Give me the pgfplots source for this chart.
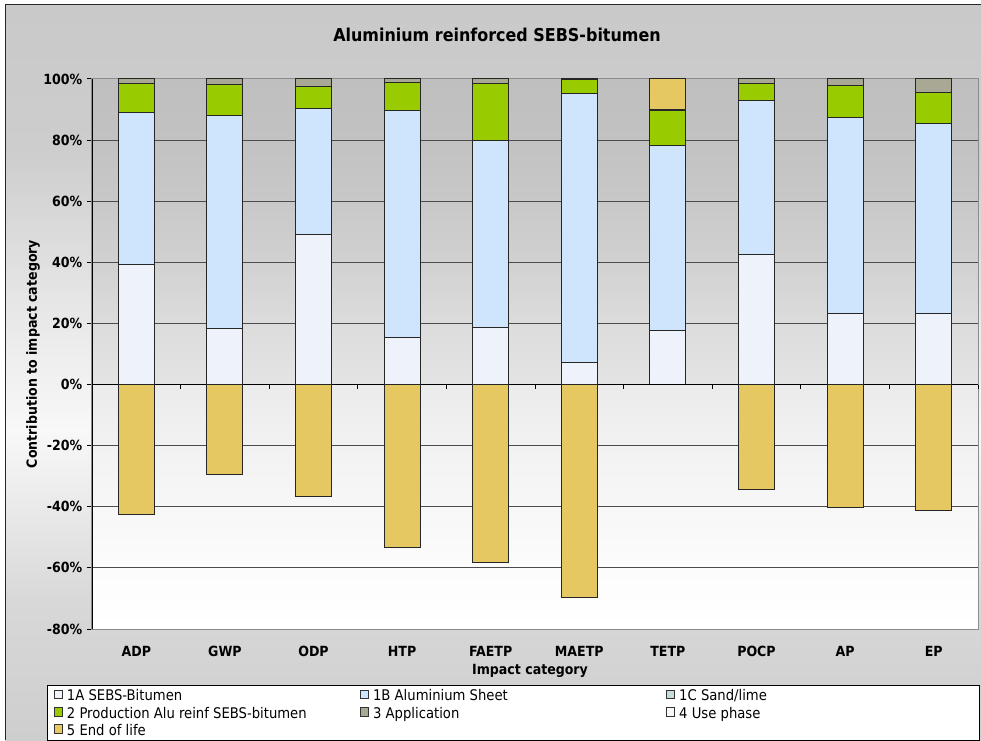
\documentclass[border=0pt]{standalone}
\usepackage{fontspec}
\setmainfont{DejaVu Sans Condensed}
\usepackage{pgfplots}
\pgfplotsset{compat=1.18}

% series colours
\definecolor{cA}{HTML}{EEF2FB}
\definecolor{cB}{HTML}{CFE4FD}
\definecolor{cC}{HTML}{C6DCDC}
\definecolor{cProd}{HTML}{99CC00}
\definecolor{cAppl}{HTML}{A9A894}
\definecolor{cUse}{HTML}{F8F8F8}
\definecolor{cEol}{HTML}{E6C862}

% chart area shading
\definecolor{o1}{HTML}{C9C9C9}
\definecolor{o2}{HTML}{CDCDCD}
\definecolor{o3}{HTML}{E6E6E6}
\definecolor{o4}{HTML}{F8F8F8}
\definecolor{o5}{HTML}{D8D8D8}
\definecolor{o6}{HTML}{CECECE}
% plot area shading
\definecolor{p1}{HTML}{BFBFBF}
\definecolor{p2}{HTML}{C2C2C2}
\definecolor{p3}{HTML}{C8C8C8}
\definecolor{p4}{HTML}{D1D1D1}
\definecolor{p5}{HTML}{DCDCDC}
\definecolor{p6}{HTML}{E4E4E4}
\definecolor{p7}{HTML}{EBEBEB}
\definecolor{p8}{HTML}{F2F2F2}
\definecolor{p9}{HTML}{F7F7F7}
\definecolor{p10}{HTML}{FCFCFC}

\newcommand\axfont{\fontsize{10.5}{12.6}\selectfont\bfseries}
\newcommand\legfont{\fontsize{11}{13}\selectfont}
\newcommand\titlefont{\fontsize{13.3}{16}\selectfont\bfseries}
\newcommand\lent[1]{\makebox[217pt][l]{#1}}

\begin{document}
\begin{tikzpicture}
\useasboundingbox (0,0) rectangle (735.75pt,555pt);
\begin{scope}[x=0.75pt,y=-0.75pt,yshift=555pt]
  \fill[white] (0,0) rectangle (981,740);
  % chart area
  \fill[top color=o1,bottom color=o2] (5,5) rectangle (981,150.5);
  \fill[top color=o2,bottom color=o3] (5,150) rectangle (981,300.5);
  \fill[top color=o3,bottom color=o4] (5,300) rectangle (981,430.5);
  \fill[top color=o4,bottom color=o5] (5,430) rectangle (981,600.5);
  \fill[top color=o5,bottom color=o6] (5,600) rectangle (981,740);
  % plot area
  \fill[top color=p1,bottom color=p2] (92,79) rectangle (978,140.5);
  \fill[top color=p2,bottom color=p3] (92,140) rectangle (978,201.5);
  \fill[top color=p3,bottom color=p4] (92,201) rectangle (978,262.5);
  \fill[top color=p4,bottom color=p5] (92,262) rectangle (978,323.5);
  \fill[top color=p5,bottom color=p6] (92,323) rectangle (978,385.5);
  \fill[top color=p7,bottom color=p8] (92,385) rectangle (978,446.5);
  \fill[top color=p8,bottom color=p9] (92,446) rectangle (978,507.5);
  \fill[top color=p9,bottom color=p10] (92,507) rectangle (978,569.5);
  \fill[top color=p10,bottom color=white] (92,569) rectangle (978,629);
  \draw[black!85,line width=0.75pt] (5,740) -- (5,5) -- (981,5);
  \node[font=\titlefont] at (497,35) {Aluminium reinforced SEBS-bitumen};
\end{scope}

\begin{axis}[
  at={(69pt,83.25pt)}, anchor=south west,
  scale only axis, width=664.5pt, height=412.5pt,
  xmin=-0.5, xmax=9.5, ymin=-80, ymax=100,
  ybar stacked, bar width=0.406,
  xtick={0,...,9},
  xticklabels={ADP,GWP,ODP,HTP,FAETP,MAETP,TETP,POCP,AP,EP},
  x tick style={draw=none},
  xticklabel style={anchor=center, yshift=-13pt},
  ytick={-80,-60,...,100},
  yticklabels={-80\%,-60\%,-40\%,-20\%,0\%,20\%,40\%,60\%,80\%,100\%},
  ytick pos=left, xtick pos=bottom,
  tick align=outside, major tick length=3.75pt,
  y tick style={black, line width=0.75pt},
  ymajorgrids, grid style={black!70, line width=0.75pt},
  axis line style={draw=black!45, line width=0.75pt},
  tick label style={font=\axfont},
  xlabel={Impact category},
  ylabel={Contribution to impact category},
  every axis x label/.style={at={(axis description cs:0.4944,-0.0764)}, anchor=center, font=\axfont},
  every axis y label/.style={at={(axis description cs:-0.0666,0.5)}, rotate=90, anchor=center, font=\axfont},
  legend columns=3, legend cell align=left,
  legend style={at={(-0.0508,-0.1018)}, anchor=north west,
    draw=black, line width=0.75pt, fill=white, font=\legfont,
    inner xsep=5pt, inner ysep=1pt,
    nodes={inner ysep=0.5pt, inner xsep=3pt, text height=10pt, text depth=2pt}},
  legend image code/.code={\draw[#1, line width=0.6pt, draw=black!80] (0pt,-2.4pt) rectangle (6pt,4pt);},
  every axis plot/.append style={draw=black!85, line width=0.75pt},
]
\addplot[fill=cA] coordinates {(0,39.2) (1,18.3) (2,49.0) (3,15.4) (4,18.8) (5,7.2) (6,17.8) (7,42.5) (8,23.3) (9,23.3)};
\addlegendentry{\lent{1A SEBS-Bitumen}}
\addplot[fill=cB] coordinates {(0,49.8) (1,69.9) (2,41.2) (3,74.4) (4,61.0) (5,88.1) (6,60.3) (7,50.6) (8,64.2) (9,62.1)};
\addlegendentry{\lent{1B Aluminium Sheet}}
\addplot[fill=cC] coordinates {(0,0) (1,0) (2,0) (3,0) (4,0) (5,0) (6,0) (7,0) (8,0) (9,0)};
\addlegendentry{\lent{1C Sand/lime}}
\addplot[fill=cProd] coordinates {(0,9.4) (1,10.1) (2,7.4) (3,9.1) (4,18.6) (5,4.4) (6,11.6) (7,5.5) (8,10.4) (9,10.2)};
\addlegendentry{\lent{2 Production Alu reinf SEBS-bitumen}}
\addplot[fill=cAppl] coordinates {(0,1.6) (1,1.7) (2,2.4) (3,1.1) (4,1.6) (5,0.3) (6,0.4) (7,1.4) (8,2.1) (9,4.4)};
\addlegendentry{\lent{3 Application}}
\addplot[fill=cUse] coordinates {(0,0) (1,0) (2,0) (3,0) (4,0) (5,0) (6,0) (7,0) (8,0) (9,0)};
\addlegendentry{\lent{4 Use phase}}
\addplot[fill=cEol] coordinates {(0,0) (1,0) (2,0) (3,0) (4,0) (5,0) (6,9.9) (7,0) (8,0) (9,0)};
\addlegendentry{\lent{5 End of life}}
\end{axis}

% End-of-life credits below zero, zero line and left axis
\begin{axis}[
  at={(69pt,83.25pt)}, anchor=south west,
  scale only axis, width=664.5pt, height=412.5pt,
  xmin=-0.5, xmax=9.5, ymin=-80, ymax=100,
  axis x line=middle, axis y line=left,
  axis line style={-, black, line width=0.75pt},
  xtick={-0.5,0.5,...,9.5}, xticklabels={},
  ytick=\empty,
  tick align=outside, major tick length=3pt,
  x tick style={black, line width=0.75pt},
  ybar, bar width=0.406, bar shift=0pt,
]
\addplot[fill=cEol, draw=black!85, line width=0.75pt] coordinates {(0,-42.4) (1,-29.3) (2,-36.6) (3,-53.2) (4,-58.2) (5,-69.6) (7,-34.2) (8,-40.3) (9,-41.1)};
\end{axis}
\end{tikzpicture}
\end{document}
